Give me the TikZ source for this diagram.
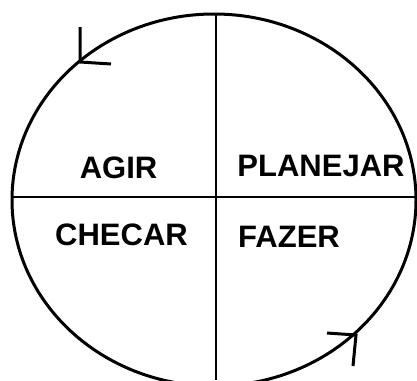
\documentclass[tikz,border=0pt]{standalone}
\usepackage{fontspec}
\setmainfont{Liberation Sans}
\usetikzlibrary{positioning}

\begin{document}
\begin{tikzpicture}[x=1pt,y=1pt]
\tikzstyle{every node}+=[inner sep=0pt]
\tikzstyle{quad}=[font=\fontsize{31}{36}\selectfont\bfseries, anchor=base]
\useasboundingbox (0,0) rectangle (417,-380);
\clip (0,0) rectangle (417,-380);
\draw [black, line width=3pt] (214,-200) ellipse (202pt and 186pt);
\coordinate (top) at (216,-14);
\coordinate (bot) at (216,-380);
\coordinate (lft) at (13,-197);
\coordinate (rgt) at (417,-197);
\draw [black, line width=1.8pt] (top) -- (bot);
\draw [black, line width=1.8pt] (lft) -- (rgt);
\node [quad] (agir) at (118.5,-178) {AGIR};
\node [quad] (planejar) at (321,-176) {PLANEJAR};
\node [quad] (checar) at (121.5,-245) {CHECAR};
\node [quad] (fazer) at (289,-247) {FAZER};
% arrow heads
\draw [black, line width=3pt] (80,-27) -- (80,-62) -- (111,-64);
\draw [black, line width=3pt] (327,-333) -- (356,-335) -- (353,-366);
\end{tikzpicture}
\end{document}
